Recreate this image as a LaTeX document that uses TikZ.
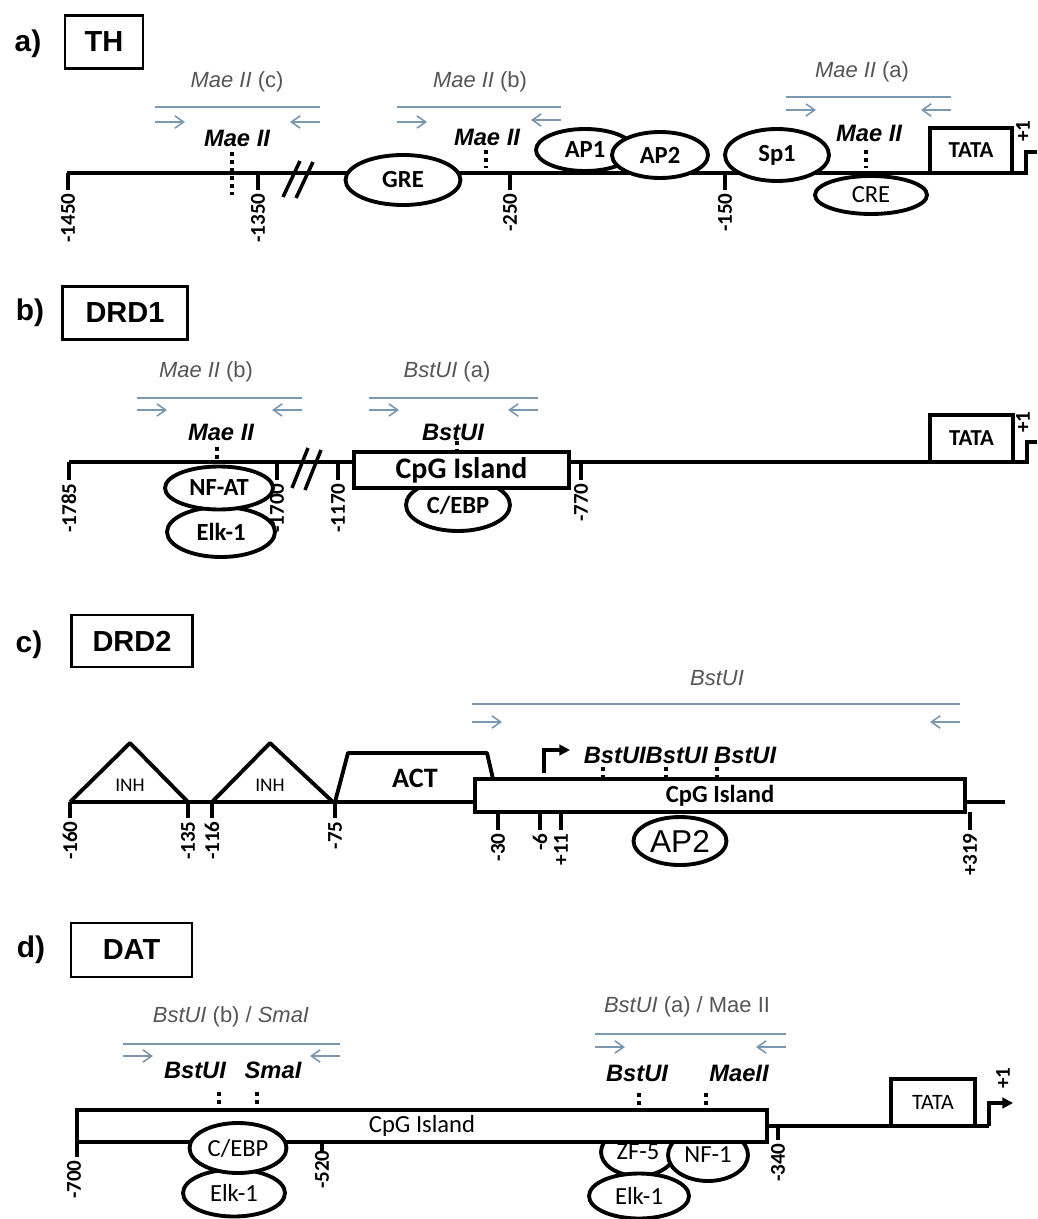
\documentclass[tikz,border=0pt]{standalone}
\usepackage{fontspec}
\setmainfont{Liberation Sans}
\newfontfamily\calibri{Carlito}
\usepackage{xcolor}
\usetikzlibrary{shapes.geometric, arrows.meta}
\definecolor{primerblue}{HTML}{7A98B0}
\definecolor{primergray}{HTML}{555555}

\begin{document}
\begin{tikzpicture}[x=0.02cm, y=-0.02cm,
  sz/.style 2 args={minimum width=#1*0.02cm, minimum height=#2*0.02cm},
  dna/.style={line width=2.8pt},
  tickmark/.style={line width=2.2pt},
  tf/.style={ellipse, draw, line width=2.2pt, fill=white, inner sep=0pt,
    font=\calibri\fontsize{14}{14}\selectfont\bfseries},
  tfreg/.style={tf, font=\calibri\fontsize{14}{14}\selectfont},
  box/.style={draw, line width=1.8pt, fill=white, inner sep=0pt},
  gene/.style={draw, line width=1.6pt, inner sep=0pt,
    font=\fontsize{16.5}{16.5}\selectfont\bfseries},
  panel/.style={font=\fontsize{17}{17}\selectfont\bfseries},
  poslabel/.style={rotate=90, anchor=east, inner sep=0pt,
    font=\calibri\fontsize{12}{12}\selectfont\bfseries},
  primerline/.style={draw=primerblue, line width=0.9pt},
  primerarrow/.style={primerline, -{Straight Barb[length=5pt, width=7pt]}},
  primerlabel/.style={text=primergray, font=\fontsize{12.5}{12.5}\selectfont},
  site/.style={font=\fontsize{13.5}{13.5}\selectfont\bfseries\itshape},
  sitedots/.style={line width=2.2pt, dash pattern=on 2.2pt off 2.4pt},
  breakmark/.style={line width=2pt},
  motif/.style={line width=2.2pt, line join=round}]

\useasboundingbox (0,0) rectangle (1037,1219);

% a) TH
\node[panel] (la) at (28,44) {a)};
\node[gene, sz={78}{53}] (th) at (104,42) {TH};

\node[primerlabel] (pthc) at (237,82) {\textit{Mae II} (c)};
\draw[primerline] (155,107) coordinate (pthcl) -- (320,107) coordinate (pthcr);
\draw[primerarrow] (155,122) -- (185,122);
\draw[primerarrow] (320,122) -- (290,122);
\node[site] (sthc) at (237,138) {Mae II};
\draw[sitedots] (232,152) -- (232,195);

\node[primerlabel] (pthb) at (480,82) {\textit{Mae II} (b)};
\draw[primerline] (397,107) -- (561,107);
\draw[primerarrow] (397,122) -- (427,122);
\draw[primerarrow] (561,120) -- (531,120);
\node[site] (sthb) at (487,137) {Mae II};
\draw[sitedots] (486,150) -- (486,168);

\node[primerlabel] (ptha) at (862,72) {\textit{Mae II} (a)};
\draw[primerline] (786,97) -- (951,97);
\draw[primerarrow] (786,110) -- (816,110);
\draw[primerarrow] (951,110) -- (921,110);
\node[site] (stha) at (869,133) {Mae II};
\draw[sitedots] (866,150) -- (866,168);

\draw[dna] (67,173) -- (1026,173) -- (1026,152) -- (1037,152);
\foreach \x/\t in {68/-1450, 258/-1350, 510/-250, 725/-150} {
  \draw[tickmark] (\x,173) -- (\x,190);
  \node[poslabel] at (\x,193) {\t};
}
\draw[breakmark] (283,197) -- (300,161) (296,198) -- (313,162);

\node[tf, sz={115}{50}] (gre) at (403,180) {GRE};
\node[tf, sz={98}{42}] (ap1) at (585,150) {AP1};
\node[tf, sz={96}{46}] (ap2) at (660,155) {AP2};
\node[tf, sz={104}{52}] (sp1) at (777,155) {Sp1};
\node[tfreg, sz={112}{38}] (cre) at (871,195) {CRE};
\node[box, sz={82}{45}, font=\calibri\fontsize{13}{13}\selectfont\bfseries] (tatath) at (971,150.5) {TATA};
\node[poslabel, anchor=west] (tssth) at (1023,142) {+1};

% b) DRD1
\node[panel] (lb) at (30,313) {b)};
\node[gene, sz={125}{53}] (drd1) at (125,313) {DRD1};

\node[primerlabel] (pd1b) at (206,372) {\textit{Mae II} (b)};
\draw[primerline] (137,398) -- (302,398);
\draw[primerarrow] (137,410) -- (167,410);
\draw[primerarrow] (302,410) -- (272,410);
\node[site] (sd1b) at (221,432) {Mae II};
\draw[sitedots] (217,447) -- (217,462);

\node[primerlabel] (pd1a) at (447,372) {\textit{BstUI} (a)};
\draw[primerline] (369,398) -- (538,398);
\draw[primerarrow] (369,410) -- (399,410);
\draw[primerarrow] (538,410) -- (508,410);
\node[site] (sd1a) at (453,432) {BstUI};
\draw[sitedots] (457,441) -- (457,452);

\draw[dna] (69,462) -- (1027,462) -- (1027,442) -- (1037,442);
\foreach \x/\t in {69/-1785, 277/-1700, 338/-1170, 581/-770} {
  \draw[tickmark] (\x,462) -- (\x,480);
  \node[poslabel] at (\x,483) {\t};
}
\draw[breakmark] (292,488) -- (308,448) (305,490) -- (321,450);

\node[tf, sz={108}{50}] (elkd1) at (221,532) {Elk-1};
\node[tf, sz={108}{43}] (nfat) at (219,488) {NF-AT};
\node[tf, sz={104}{52}] (cebpd1) at (458,505) {C/EBP};
\node[box, sz={215}{36}, line width=2.2pt, font=\calibri\fontsize{17}{17}\selectfont\bfseries] (cpgd1) at (461.5,470) {CpG Island};
\node[box, sz={83}{47}, font=\calibri\fontsize{13}{13}\selectfont\bfseries] (tatad1) at (971.5,438.5) {TATA};
\node[poslabel, anchor=west] (tssd1) at (1023,433) {+1};

% c) DRD2
\node[panel] (lc) at (29,645) {c)};
\node[gene, sz={121}{52}] (drd2) at (132,641) {DRD2};

\node[primerlabel] (pd2) at (717,678) {\textit{BstUI}};
\draw[primerline] (472,704) -- (960,704);
\draw[primerarrow] (472,722) -- (502,722);
\draw[primerarrow] (960,722) -- (930,722);

\draw[dna] (70,802) -- (1005,802);
\draw[motif] (70,802) -- (130,743) -- (188,802);
\draw[motif] (212,802) -- (270,743) -- (333,802);
\node[font=\calibri\fontsize{11}{11}\selectfont] (inh1) at (130,785) {INH};
\node[font=\calibri\fontsize{11}{11}\selectfont] (inh2) at (270,785) {INH};
\draw[motif] (335,802) -- (348,753) -- (487,753) -- (493,779);
\node[font=\calibri\fontsize{16}{16}\selectfont\bfseries] (act) at (415,778) {ACT};

\foreach \x/\t in {70/-160, 188/-135, 212/-116, 335/-75} {
  \draw[tickmark] (\x,802) -- (\x,818);
  \node[poslabel] at (\x,821) {\t};
}
\foreach \x/\t in {498/-30, 540/-6, 561/+11, 970/+319} {
  \draw[tickmark] (\x,812) -- (\x,830);
  \node[poslabel] at (\x,833) {\t};
}
\node[tf, sz={93}{48}, font=\fontsize{18}{18}\selectfont] (ap2d2) at (680,841) {AP2};
\node[box, sz={490}{33}, line width=2.2pt, font=\calibri\fontsize{14}{14}\selectfont\bfseries] (cpgd2) at (720,795.5) {CpG Island};
\draw[line width=2pt, -{Triangle[length=6pt, width=6pt]}] (544,773) -- (544,750) -- (570,750);
\node[site] (sd2) at (680,755) {BstUIBstUI BstUI};
\foreach \x in {603, 666, 717}
  \draw[sitedots] (\x,767) -- (\x,779);

% d) DAT
\node[panel] (ld) at (31,950) {d)};
\node[gene, sz={121}{54}] (dat) at (131.5,950) {DAT};

\node[primerlabel] (pdatb) at (231,1017) {\textit{BstUI} (b) / \textit{SmaI}};
\draw[primerline] (123,1044) -- (340,1044);
\draw[primerarrow] (123,1056) -- (153,1056);
\draw[primerarrow] (340,1056) -- (310,1056);
\node[site] (sdatb1) at (195,1070) {BstUI};
\node[site] (sdatb2) at (273,1070) {SmaI};
\draw[sitedots] (219,1092) -- (219,1110);
\draw[sitedots] (257,1092) -- (257,1110);

\node[primerlabel] (pdata) at (687,1007) {\textit{BstUI} (a) / Mae II};
\draw[primerline] (595,1034) -- (786,1034);
\draw[primerarrow] (595,1047) -- (625,1047);
\draw[primerarrow] (786,1047) -- (756,1047);
\node[site] (sdata1) at (637,1073) {BstUI};
\node[site] (sdata2) at (739,1073) {MaeII};
\draw[sitedots] (639,1093) -- (639,1110);
\draw[sitedots] (706,1093) -- (706,1110);

\draw[dna] (77,1126) -- (989,1126);
\draw[dna, -{Triangle[length=6pt, width=6pt]}] (989,1126) -- (989,1103) -- (1013,1103);
\node[tfreg, sz={74}{48}] (zf5) at (638,1152) {ZF-5};
\node[tfreg, sz={80}{52}] (nf1) at (708,1155) {NF-1};
\node[box, sz={690}{32}, line width=2.4pt, font=\calibri\fontsize{14}{14}\selectfont] (cpgdat) at (422,1126) {CpG Island};
\node[tfreg, sz={100}{45}] (elkdat2) at (639,1196) {Elk-1};
\node[tfreg, sz={102}{47}] (elkdat1) at (234,1193) {Elk-1};
\node[tfreg, sz={97}{50}] (cebpdat) at (238,1148) {C/EBP};

\draw[tickmark] (77,1110) -- (77,1157);
\node[poslabel] at (74,1160) {-700};
\draw[tickmark] (322,1142) -- (322,1152);
\node[poslabel] at (322,1150) {-520};
\draw[tickmark] (778,1126) -- (778,1140);
\node[poslabel] at (778,1143) {-340};
\node[box, sz={84}{47}, font=\calibri\fontsize{12.5}{12.5}\selectfont] (tatadat) at (933,1102.5) {TATA};
\node[poslabel, anchor=center] (tssdat) at (1003,1078) {+1};

\end{tikzpicture}
\end{document}
